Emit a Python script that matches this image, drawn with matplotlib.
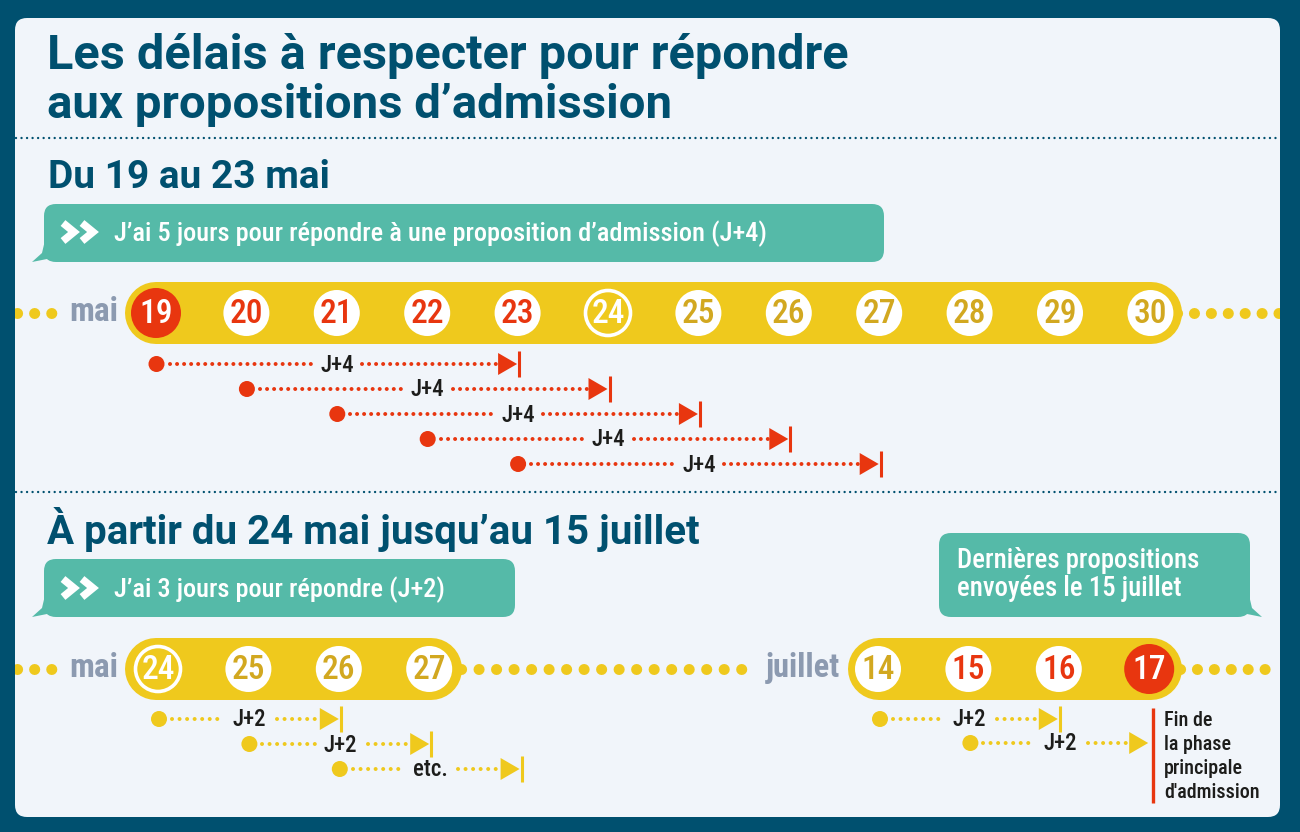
import matplotlib.pyplot as plt
from matplotlib.patches import FancyBboxPatch, Polygon, Circle

class charts_delais:

    azul = '#00506f'
    fondo = '#f1f5fa'
    verde = '#55baa8'
    amarillo = '#efc91d'
    amarillo_txt = '#d2a820'
    rojo = '#e8360f'
    gris = '#8c9ab0'
    paso = 90.4 # Separacion entre dias en pixeles
    estrecha = ['Roboto Condensed', 'Roboto']
    ax = None
    panel = None

    # Cada fila: dia inicial, dia final, etiqueta, y de la fila
    filas_j4 = [(19, 23, 'J+4', 364), (20, 24, 'J+4', 389), (21, 25, 'J+4', 414), (22, 26, 'J+4', 439), (23, 27, 'J+4', 464)]
    filas_mai = [(24, 26, 'J+2', 719), (25, 27, 'J+2', 744), (26, 28, 'etc.', 769)]
    filas_juillet = [(14, 16, 'J+2', 719), (15, 17, 'J+2', 743)]

    def dia_x(self, dia, base_dia, base_x):
        return base_x + (dia - base_dia) * self.paso # Convierte el dia a posicion x

    def plot_bubble(self, x0, x1, y0, y1, cola_izq=True):
        self.ax.add_patch(FancyBboxPatch((x0 + 12, y0 + 12), x1 - x0 - 24, y1 - y0 - 24, boxstyle='round,pad=12,rounding_size=12', fc=self.verde, ec='none', zorder=2))
        if cola_izq:
            cola = [(x0 + 2, y1 - 26), (x0 - 2, y1 - 9), (x0 - 12, y1), (x0 + 3, y1 - 3), (x0 + 14, y1 - 1)]
        else:
            cola = [(x1 - 2, y1 - 26), (x1 + 2, y1 - 9), (x1 + 12, y1), (x1 - 3, y1 - 3), (x1 - 14, y1 - 1)]
        self.ax.add_patch(Polygon(cola, closed=True, fc=self.verde, ec='none', zorder=2))

    def plot_chevrons(self, x, y):
        for dx in [0, 19]:
            self.ax.plot([x + dx, x + dx + 11, x + dx], [y - 9, y, y + 9], color='white', lw=5.4, solid_joinstyle='miter', solid_capstyle='butt', zorder=3)

    def plot_dots(self, x0, x1, y, color, size_px, gap_px, zorder=1):
        lw = size_px * 0.72
        linea, = self.ax.plot([x0, x1], [y, y], color=color, lw=lw, linestyle=(0, (0.01, gap_px / size_px)), dash_capstyle='round', zorder=zorder)
        linea.set_clip_path(self.panel) # Corta los puntos en el borde del panel

    def plot_pill(self, x0, x1, y):
        self.ax.plot([x0 + 31, x1 - 31], [y, y], color=self.amarillo, lw=62 * 0.72, solid_capstyle='round', zorder=2)

    def plot_day(self, dia, x, y, tipo):
        if tipo == 'fin': # Dia limite en rojo
            self.ax.add_patch(Circle((x, y), 25, fc=self.rojo, ec='none', zorder=3))
            color = 'white'
        elif tipo == 'anillo': # Dia de cambio de plazo
            self.ax.add_patch(Circle((x, y), 22.5, fc='none', ec='white', lw=2.6, zorder=3))
            color = 'white'
        else:
            self.ax.add_patch(Circle((x, y), 23, fc='white', ec='none', zorder=3))
            color = tipo
        self.ax.text(x, y + 1, str(dia), color=color, fontsize=24, fontweight='medium', family=self.estrecha, ha='center', va='center', zorder=4)

    def plot_arrow(self, x0, x1, y, label, color, dot_px, gap_px, barra=True):
        medio = (x0 + x1) / 2
        ancho = 25 if label != 'J+4' else 22
        self.ax.add_patch(Circle((x0, y), 8, fc=color, ec='none', zorder=3))
        self.plot_dots(x0 + 13, medio - ancho, y, color, dot_px, gap_px, 2)
        self.plot_dots(medio + ancho + 3, x1 - 20, y, color, dot_px, gap_px, 2)
        self.ax.add_patch(Polygon([(x1 - 20, y - 11), (x1 - 1, y), (x1 - 20, y + 11)], closed=True, fc=color, ec='none', zorder=3))
        if barra:
            self.ax.plot([x1 + 1, x1 + 1], [y - 13, y + 13], color=color, lw=2.2, solid_capstyle='butt', zorder=3)
        self.ax.text(medio, y + 1, label, color='#1d1d1b', fontsize=16.5, fontweight='medium', family=self.estrecha, ha='center', va='center', zorder=4)

    def plot_base(self):
        fig, ax = plt.subplots(figsize=(13, 8.32), dpi=100) # figura y coordenadas
        fig.subplots_adjust(0, 0, 1, 1)
        fig.patch.set_facecolor(self.azul)
        ax.set_xlim(0, 1300)
        ax.set_ylim(832, 0) # Eje y hacia abajo como en la imagen
        ax.axis('off')
        self.panel = FancyBboxPatch((27, 30), 1241, 775, boxstyle='round,pad=12,rounding_size=12', fc=self.fondo, ec='none', zorder=0)
        ax.add_patch(self.panel)
        self.ax = ax
        return fig

    def plot_titles(self):
        ax = self.ax
        ax.text(47, 56, 'Les délais à respecter pour répondre', color=self.azul, fontsize=35, fontweight='bold', family='Roboto', va='center')
        ax.text(47, 105, 'aux propositions d’admission', color=self.azul, fontsize=34.1, fontweight='bold', family='Roboto', va='center')
        ax.text(48, 178, 'Du 19 au 23 mai', color=self.azul, fontsize=28, fontweight='bold', family='Roboto', va='center')
        ax.text(47, 529, 'À partir du 24 mai jusqu’au 15 juillet', color=self.azul, fontsize=29, fontweight='bold', family='Roboto', va='center')
        # Lineas punteadas de separacion
        self.plot_dots(16, 1279, 138, self.azul, 2.4, 5.5)
        self.plot_dots(16, 1279, 492, self.azul, 2.4, 5.5)

    def solucion1(self):
        # Primer periodo: del 19 al 30 de mayo
        ax = self.ax
        self.plot_bubble(44, 884, 204, 262)
        self.plot_chevrons(63, 232)
        ax.text(114, 233.5, 'J’ai 5 jours pour répondre à une proposition d’admission (J+4)', color='white', fontsize=19, fontweight='medium', family=self.estrecha, va='center', zorder=3)
        self.plot_dots(17, 52, 313, self.amarillo, 11, 17)
        self.plot_dots(1177, 1279, 313, self.amarillo, 11, 16.8)
        ax.text(94, 312, 'mai', color=self.gris, fontsize=24, fontweight='bold', family=self.estrecha, ha='center', va='center')
        self.plot_pill(125, 1182, 313)
        for dia in range(19, 31):
            x = self.dia_x(dia, 19, 156)
            if dia == 19:
                tipo = 'fin'
            elif dia == 24:
                tipo = 'anillo'
            elif dia < 24:
                tipo = self.rojo
            else:
                tipo = self.amarillo_txt
            self.plot_day(dia, x, 313, tipo)
        for inicio, fin, label, y in self.filas_j4:
            self.plot_arrow(self.dia_x(inicio, 19, 156.5), self.dia_x(fin, 19, 156.5), y, label, self.rojo, 4, 7)

    def solucion2(self):
        # Segundo periodo: del 24 de mayo al 15 de julio
        ax = self.ax
        self.plot_bubble(44, 515, 559, 617)
        self.plot_chevrons(63, 588)
        ax.text(114, 589.5, 'J’ai 3 jours pour répondre (J+2)', color='white', fontsize=19, fontweight='medium', family=self.estrecha, va='center', zorder=3)
        self.plot_bubble(939, 1250, 533, 617, cola_izq=False)
        ax.text(957, 560, 'Dernières propositions', color='white', fontsize=19.3, fontweight='medium', family=self.estrecha, va='center', zorder=3)
        ax.text(957, 589, 'envoyées le 15 juillet', color='white', fontsize=19.3, fontweight='medium', family=self.estrecha, va='center', zorder=3)
        self.plot_dots(17, 52, 669, self.amarillo, 11, 17)
        self.plot_dots(461, 750, 669, self.amarillo, 11, 17.4)
        self.plot_dots(1180, 1279, 669, self.amarillo, 11, 16.8)
        ax.text(94, 668, 'mai', color=self.gris, fontsize=24, fontweight='bold', family=self.estrecha, ha='center', va='center')
        ax.text(803, 668, 'juillet', color=self.gris, fontsize=23.5, fontweight='bold', family=self.estrecha, ha='center', va='center')
        self.plot_pill(125, 462, 669)
        self.plot_pill(848, 1182, 669)
        for dia in range(24, 28):
            tipo = 'anillo' if dia == 24 else self.amarillo_txt
            self.plot_day(dia, self.dia_x(dia, 24, 158), 669, tipo)
        for dia in range(14, 18):
            if dia == 17:
                tipo = 'fin'
            elif dia == 14:
                tipo = self.amarillo_txt
            else:
                tipo = self.rojo
            self.plot_day(dia, self.dia_x(dia, 14, 878), 669, tipo)
        for inicio, fin, label, y in self.filas_mai:
            self.plot_arrow(self.dia_x(inicio, 24, 159), self.dia_x(fin, 24, 159), y, label, self.amarillo, 4, 7.5)
        for inicio, fin, label, y in self.filas_juillet:
            self.plot_arrow(self.dia_x(inicio, 14, 880), self.dia_x(fin, 14, 880) - 2, y, label, self.amarillo, 4, 7.5, barra=(fin != 17))
        # Fin de la fase principal
        ax.plot([1152.5, 1152.5], [708, 803], color=self.rojo, lw=2.4, solid_capstyle='butt', zorder=3)
        for texto, y in zip(['Fin de', 'la phase', 'principale', 'd\'admission'], [720, 745, 769, 792]):
            ax.text(1164, y, texto, color='#1d1d1b', fontsize=14.5, fontweight='medium', family=self.estrecha, va='center', zorder=3)

    def main(self):
        fig = self.plot_base()
        self.plot_titles()
        self.solucion1()
        self.solucion2()
        fig.savefig('out.png', dpi=100, facecolor=fig.get_facecolor())

if __name__ == '__main__':
    charts_delais = charts_delais()
    charts_delais.main()
